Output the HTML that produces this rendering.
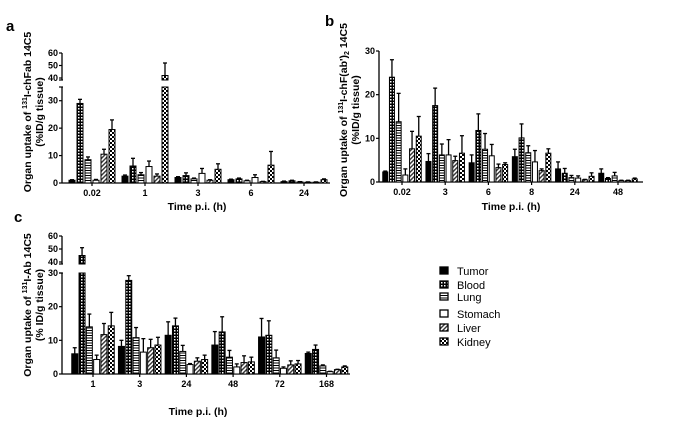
<!DOCTYPE html>
<html><head><meta charset="utf-8"><style>
body{margin:0;background:#fff}
svg{display:block;font-family:"Liberation Sans",Arial,sans-serif}
.t{font-size:9px;font-weight:bold}
.ti{font-size:10.5px;font-weight:bold}
</style></head><body>
<svg id="fig" width="685" height="429" viewBox="0 0 685 429">
<defs>
<pattern id="p1" width="3" height="3" patternUnits="userSpaceOnUse"><rect width="3" height="3" fill="#000"/><rect x="0" y="0" width="1.5" height="1.5" fill="#fff"/></pattern>
<pattern id="p2" width="3" height="2.5" patternUnits="userSpaceOnUse"><rect width="3" height="2.5" fill="#fff"/><rect y="0" width="3" height="1" fill="#000"/></pattern>
<pattern id="p4" width="3" height="3" patternUnits="userSpaceOnUse" patternTransform="rotate(45)"><rect width="3" height="3" fill="#fff"/><rect width="1.4" height="3" fill="#333"/></pattern>
<pattern id="p5" width="4" height="4" patternUnits="userSpaceOnUse"><rect width="4" height="4" fill="#fff"/><rect width="2" height="2" fill="#000"/><rect x="2" y="2" width="2" height="2" fill="#000"/></pattern>
</defs>
<g id="root"></g>
<text x="6" y="31" font-size="15" font-weight="bold">a</text>
<text x="325" y="26" font-size="15" font-weight="bold">b</text>
<text x="14" y="222" font-size="15" font-weight="bold">c</text>
<g class="ti">
<text transform="translate(31,112) rotate(-90)" text-anchor="middle">Organ uptake of <tspan font-size="7" dy="-4">131</tspan><tspan dy="4">I-chFab 14C5</tspan></text>
<text transform="translate(43,112) rotate(-90)" text-anchor="middle">(%ID/g tissue)</text></g>
<g class="ti">
<text transform="translate(347,110) rotate(-90)" text-anchor="middle">Organ uptake of <tspan font-size="7" dy="-4">131</tspan><tspan dy="4">I-chF(ab')</tspan><tspan font-size="7" dy="2">2</tspan><tspan dy="-2"> 14C5</tspan></text>
<text transform="translate(359,110) rotate(-90)" text-anchor="middle">(%ID/g tissue)</text></g>
<g class="ti">
<text transform="translate(31,305) rotate(-90)" text-anchor="middle">Organ uptake of <tspan font-size="7" dy="-4">131</tspan><tspan dy="4">I-Ab 14C5</tspan></text>
<text transform="translate(43,305) rotate(-90)" text-anchor="middle">(% ID/g tissue)</text></g>
<text class="ti" x="197" y="210" text-anchor="middle">Time p.i. (h)</text>
<text class="ti" x="511" y="210" text-anchor="middle">Time p.i. (h)</text>
<text class="ti" x="198" y="415" text-anchor="middle">Time p.i. (h)</text>
<g id="legend"></g>
</svg>
<script>
const organs=["Tumor","Blood","Lung","Stomach","Liver","Kidney"];
const fills=["#000","url(#p1)","url(#p2)","#fff","url(#p4)","url(#p5)"];
const catsA=["0.02","1","3","6","24"];
const meanA=[[1,29,8.5,1,10.5,19.5],[2.5,6.2,3,6,2.5,42],[2,2.7,1.5,3.5,1,5],[1.2,1.5,0.8,2,0.5,6.5],[0.5,0.8,0.4,0.3,0.3,1.2]];
const errA=[[0.2,1.5,1,0.3,1.8,3.5],[0.4,2.8,0.8,2,0.8,10],[0.3,1,0.3,1.8,0.2,2],[0.2,0.3,0.2,1,0.1,5],[0.2,0.2,0.1,0.1,0.1,0.3]];
const catsB=["0.02","3","6","8","24","48"];
const meanB=[[2.3,24,13.8,1.6,7.6,10.5],[4.7,17.5,6.2,6.2,4.9,6.6],[4.4,11.8,7.5,6,3.3,4],[5.8,10.1,6.7,4.6,2.6,6.6],[3,2,1,0.9,0.5,1.3],[2,0.8,1.4,0.3,0.3,0.7]];
const errB=[[0.2,4,6.5,1.4,4,4.5],[1.8,4,2.5,3.5,1,4],[1.8,3.8,3.6,2.6,0.8,0.4],[1.7,3.2,1.6,2.6,0.4,1],[1.6,1.1,0.5,0.5,0.1,0.8],[1,0.2,0.8,0.1,0.1,0.2]];
const catsC=["1","3","24","48","72","168"];
const meanC=[[6,45,14,4.3,11.7,14.3],[8.2,27.8,10.8,6.5,7.8,8.6],[11.5,14.3,6.7,2.8,3.8,4.3],[8.6,12.5,5,2.1,3.4,3.6],[11,11.5,4.8,1.7,2.7,3],[6.1,7.3,2.4,0.7,1.3,2.1]];
const errC=[[1.8,6,3.8,1.3,3.3,4],[1.8,1.4,3,4,2.5,2.3],[4,2.3,1.8,0.3,1,1.3],[4,4.5,2,0.9,2,1.4],[5.5,4.3,2.3,0.4,1.2,1],[0.4,1.3,0.3,0.1,0.1,0.3]];
const ticksLowA=[0,10,20,30], ticksUpA=[40,50,60];
const ticksB=[0,10,20,30];
const ticksLowC=[0,10,20,30], ticksUpC=[40,50,60];

const NS="http://www.w3.org/2000/svg";
const root=document.getElementById('root');
function mk(tag,at,par){const e=document.createElementNS(NS,tag);for(const k in at)e.setAttribute(k,at[k]);(par||root).appendChild(e);return e;}

function panel(o){
  const g=mk('g',{});
  
  
  const yL=v=>o.y0-(v)*(o.y0-o.yTop)/o.lowMax;
  const yU=v=>o.u40-(v-o.uMin)*(o.u40-o.u60)/(o.uMax-o.uMin);
  const ax='#000';
  mk('line',{x1:o.x0,y1:o.y0,x2:o.x0,y2:o.yTop,stroke:ax,'stroke-width':1.3},g);
  o.ticksLow.forEach(t=>{const y=yL(t);
    mk('line',{x1:o.x0-3,y1:y,x2:o.x0,y2:y,stroke:ax,'stroke-width':1.2},g);
    const tx=mk('text',{x:o.x0-4,y:y+3,'text-anchor':'end',class:'t'},g);tx.textContent=t;
    
    });
  if(o.ticksUp){
    mk('line',{x1:o.x0-3,y1:o.yTop,x2:o.x0+1,y2:o.yTop,stroke:ax,'stroke-width':1.2},g);
    mk('line',{x1:o.x0,y1:o.u40+2,x2:o.x0,y2:o.u60,stroke:ax,'stroke-width':1.3},g);
    mk('line',{x1:o.x0-3,y1:o.u40+2,x2:o.x0+1,y2:o.u40+2,stroke:ax,'stroke-width':1.2},g);
    o.ticksUp.forEach(t=>{const y=yU(t);
      mk('line',{x1:o.x0-3,y1:y,x2:o.x0,y2:y,stroke:ax,'stroke-width':1.2},g);
      const tx=mk('text',{x:o.x0-4,y:y+3,'text-anchor':'end',class:'t'},g);tx.textContent=t;
      
      });
  }
  mk('line',{x1:o.x0,y1:o.y0,x2:o.x1,y2:o.y0,stroke:ax,'stroke-width':1.3},g);
  o.cats.forEach((c,i)=>{
    const cx=o.g0+i*o.gs;
    mk('line',{x1:cx,y1:o.y0,x2:cx,y2:o.y0+3,stroke:ax,'stroke-width':1.2},g);
    const tx=mk('text',{x:cx,y:o.y0+13,'text-anchor':'middle',class:'t'},g);tx.textContent=c;
    
    
    o.mean[i].forEach((v,j)=>{
      const bx=cx+(j-2.5)*o.step-o.bw/2;
      const e=o.err[i][j];
      if(o.ticksUp && v>o.lowMax){
        const r1=mk('rect',{x:bx,y:o.yTop,width:o.bw,height:o.y0-o.yTop,fill:fills[j],stroke:'#000','stroke-width':1},g);
        
        
        const yb=o.u40+2, yt=yU(v);
        mk('rect',{x:bx,y:yt,width:o.bw,height:yb-yt,fill:fills[j],stroke:'#000','stroke-width':1},g);
        const ye=yU(v+e);
        mk('line',{x1:bx+o.bw/2,y1:yt,x2:bx+o.bw/2,y2:ye,stroke:'#000','stroke-width':1.3},g);
        mk('line',{x1:bx+o.bw/2-2,y1:ye,x2:bx+o.bw/2+2,y2:ye,stroke:'#000','stroke-width':1.3},g);
      } else {
        const yt=yL(v);
        const r=mk('rect',{x:bx,y:yt,width:o.bw,height:o.y0-yt,fill:fills[j],stroke:'#000','stroke-width':1},g);
        
        
        const ye=yL(v+e);
        mk('line',{x1:bx+o.bw/2,y1:yt,x2:bx+o.bw/2,y2:ye,stroke:'#000','stroke-width':1.3},g);
        mk('line',{x1:bx+o.bw/2-2,y1:ye,x2:bx+o.bw/2+2,y2:ye,stroke:'#000','stroke-width':1.3},g);
      }
    });
  });
}
panel({name:'panel-a',x0:62,x1:330,y0:183,yTop:87,lowMax:35,u40:78,u60:53,uMin:40,uMax:60,cats:catsA,mean:meanA,err:errA,ticksLow:ticksLowA,ticksUp:ticksUpA,g0:92,gs:53,step:8,bw:6});
panel({name:'panel-b',x0:379,x1:643,y0:182,yTop:51,lowMax:30,cats:catsB,mean:meanB,err:errB,ticksLow:ticksB,g0:402,gs:43.2,step:6.7,bw:5});
panel({name:'panel-c',x0:62,x1:350,y0:374,yTop:273,lowMax:30,u40:262,u60:236,uMin:40,uMax:60,cats:catsC,mean:meanC,err:errC,ticksLow:ticksLowC,ticksUp:ticksUpC,g0:93,gs:46.7,step:7.3,bw:6});

const lg=document.getElementById('legend');
const ly=[275,289,301,318,332,346];
organs.forEach((n,j)=>{
  const r=mk('rect',{x:440,y:ly[j]-8,width:8,height:7,fill:fills[j],stroke:'#000','stroke-width':1.3},lg);
  
  
  const t=mk('text',{x:457,y:ly[j],'font-size':'11'},lg);t.textContent=n;
  
  
});
</script>
</body></html>
